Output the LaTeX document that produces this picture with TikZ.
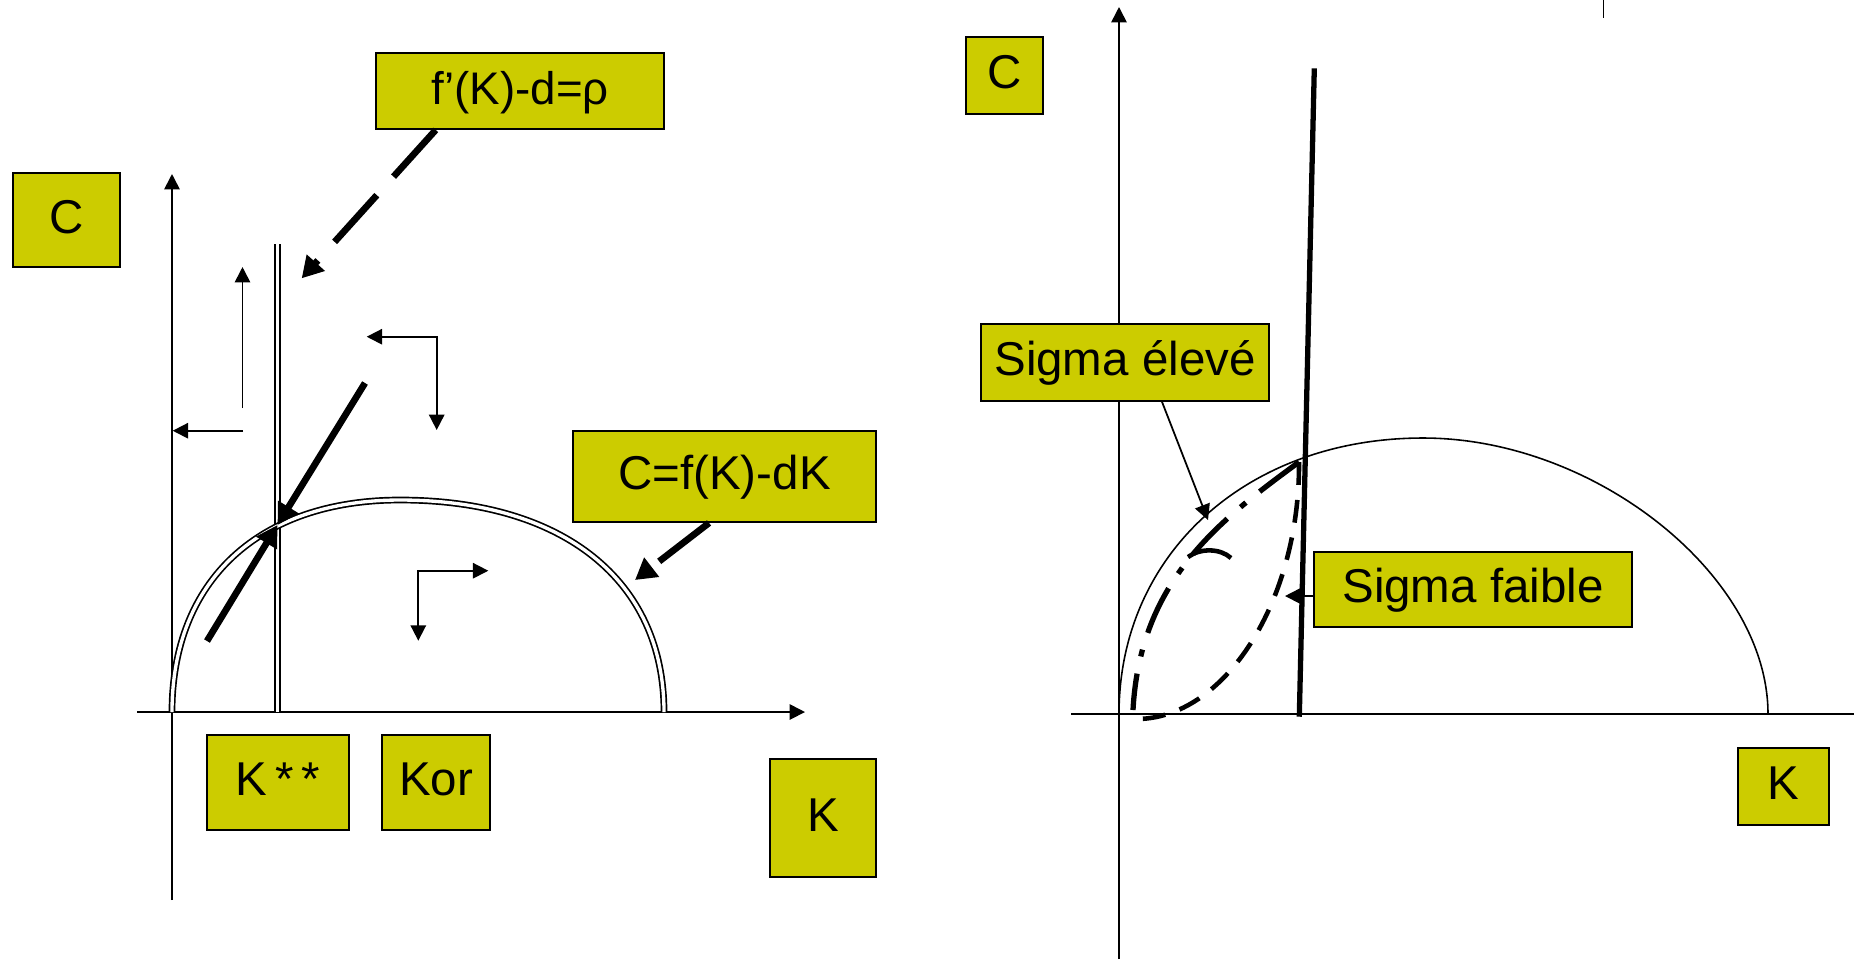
\documentclass[tikz,border=0pt]{standalone}
\usepackage{fontspec}
\setmainfont{Liberation Sans}
\usepackage{tikz}
\usetikzlibrary{arrows.meta,calc}
\definecolor{boxolive}{RGB}{204,204,0}
\tikzset{
  lbox/.style={draw=black, fill=boxolive, line width=0.5pt, inner sep=0pt,
               text height=0.75em, text depth=0pt,
               font=\fontsize{13.5}{16}\selectfont},
  axis/.style={line width=0.5pt, -{Triangle[length=4.4pt,width=4.4pt]}},
  small/.style={line width=0.5pt},
  dline/.style={draw=black, line width=0.48pt, double=white, double distance=0.95pt},
  flow/.style={-{Triangle[length=6pt,width=6.6pt]}, line width=1.9pt},
  flowd/.style={flow, dash pattern=on 17.9pt off 7.1pt},
  ptr/.style={line width=0.5pt, -{Triangle[length=4.4pt,width=4.4pt]}},
  saddlehigh/.style={line width=1.5pt, dash pattern=on 14pt off 5pt on 2pt off 5pt},
  saddlelow/.style={line width=1.3pt, dash pattern=on 6.5pt off 4.3pt},
}
\begin{document}
\begin{tikzpicture}[x=0.01cm, y=-0.01cm, >={Triangle[length=4.4pt,width=4.4pt]}]
  \useasboundingbox (0,0) rectangle (1854,959);
  % left panel
  \draw[axis] (172,900) -- (172,174);
  \draw[axis] (137,712) -- (805,712);
  \draw[dline] (277.5,244) -- (277.5,712);
  \draw[dline] (172,712) .. controls (172,580.6) and (258.6,500) .. (400,500)
                         .. controls (563.7,500) and (664,580.6) .. (664,712);
  \draw[->, small] (242.5,408) -- (242.5,267);
  \draw[->, small] (243,430.7) -- (172.7,430.7);
  \draw[<->, small] (366.7,336.7) -| (436.7,430);
  \draw[<->, small] (488.3,570.7) -| (418.3,640.7);
  \coordinate (ssL) at (277.5,525);
  \coordinate (upL) at (365,383);
  \coordinate (lowL) at (207,641);
  \draw[flow] (upL) -- (ssL);\draw[flow] (lowL) -- (ssL);

  \node[lbox, minimum width=1.07cm, minimum height=0.94cm] (cL) at (66.5,220) {C};
  \node[lbox, minimum width=2.88cm, minimum height=0.76cm, font=\fontsize{13}{16}\selectfont] (fprime) at (520,91) {f’(K)-d=ρ};
  \node[lbox, minimum width=3.03cm, minimum height=0.91cm] (cfk) at (724.5,476.5) {C=f(K)-dK};
  \node[lbox, minimum width=1.42cm, minimum height=0.95cm] (kss) at (278,782.5) {K\,*\,*};
  \node[lbox, minimum width=1.08cm, minimum height=0.95cm] (kor) at (436,782.5) {Kor};
  \node[lbox, minimum width=1.06cm, minimum height=1.18cm] (kL) at (823,818) {K};
  \coordinate (fptip) at (301.7,278.3);
  \coordinate (cfktip) at (635,580);
  \draw[flowd] ($(fprime.south west)+(60.7,0)$) -- (fptip);
  \draw[flowd] ($(cfk.south west)+(137,0)$) -- (cfktip);

  % right panel
  \draw[axis] (1119,959) -- (1119,7);
  \draw[small] (1071,714) -- (1854,714);
  \draw[small] (1603.4,0) -- (1603.4,18);
  \draw[line width=0.45pt] (1119,714) .. controls (1119,554) and (1247,438) .. (1423,438)
                           .. controls (1595.5,438) and (1768,576) .. (1768,714);
  \draw[line width=1.5pt] (1314.3,68.3) -- (1299.3,716.7);
  \coordinate (ssR) at (1299,462);
  \draw[saddlehigh] (ssR) .. controls (1220,520) and (1140,580) .. (1133,710);
  \draw[saddlelow] (ssR) .. controls (1300,600) and (1225,720) .. (1135,719);
  \draw[line width=1.3pt] (1188,557) .. controls (1200,548) and (1220,548) .. (1231,558);

  \node[lbox, minimum width=0.77cm, minimum height=0.77cm] (cR) at (1004.5,75.5) {C};
  \node[lbox, minimum width=2.88cm, minimum height=0.77cm] (sighigh) at (1125,362.5) {Sigma élevé};
  \node[lbox, minimum width=3.18cm, minimum height=0.75cm] (siglow) at (1473,589.5) {Sigma faible};
  \node[lbox, minimum width=0.91cm, minimum height=0.77cm] (kR) at (1783.5,786.5) {K};
  \coordinate (hightip) at (1208,520);
  \coordinate (lowtip) at (1285,596);
  \draw[ptr] ($(sighigh.south west)+(182,0)$) -- (hightip);
  \draw[ptr] ($(siglow.west)+(0,6.5)$) -- (lowtip);
\end{tikzpicture}
\end{document}
